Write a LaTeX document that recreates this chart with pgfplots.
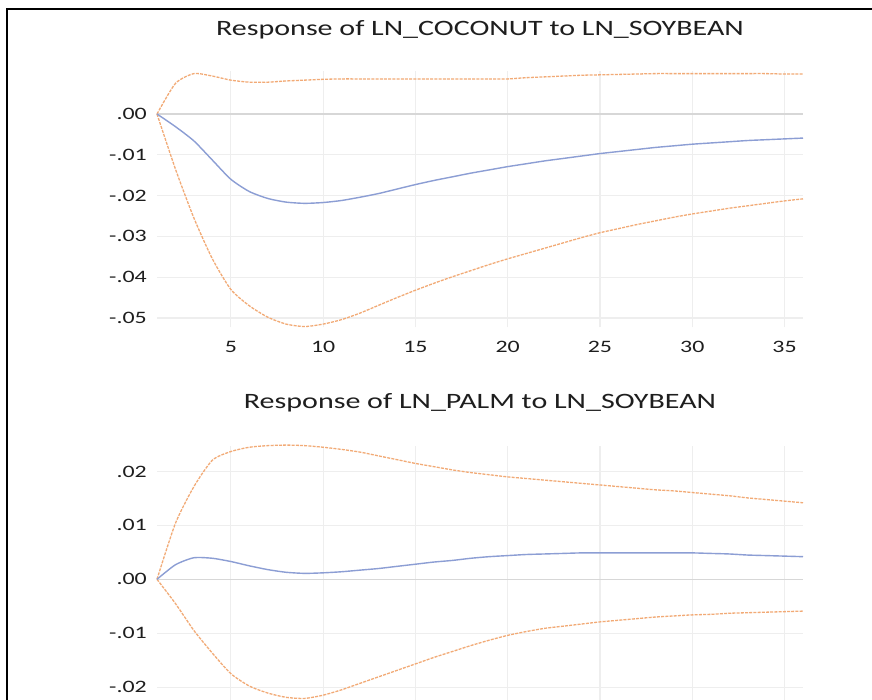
\documentclass[border=0pt]{standalone}
\usepackage{pgfplots}
\pgfplotsset{compat=1.18}
\usepackage{pgfplotstable}
\usepackage{fontspec}
\setmainfont{Carlito}[FakeStretch=1.37]
\definecolor{irfblue}{RGB}{140,158,212}
\definecolor{bandorange}{RGB}{242,170,118}
\definecolor{gridc}{RGB}{238,238,238}
\definecolor{zeroc}{RGB}{215,215,215}
\definecolor{txt}{RGB}{30,30,30}

\pgfplotstableread{
x mid lo hi
1 0 0 0
2 -0.0031 -0.0135 0.0075
3 -0.0066 -0.0255 0.0099
4 -0.0113 -0.0355 0.0093
5 -0.0160 -0.0430 0.0083
6 -0.0190 -0.0470 0.0078
7 -0.0207 -0.0498 0.0078
8 -0.0216 -0.0515 0.0081
9 -0.0219 -0.0521 0.0083
10 -0.0217 -0.0515 0.0085
11 -0.0212 -0.0504 0.0086
12 -0.0204 -0.0488 0.0086
13 -0.0195 -0.0469 0.0086
14 -0.0184 -0.0450 0.0086
15 -0.0173 -0.0432 0.0086
16 -0.0163 -0.0415 0.0086
17 -0.0154 -0.0399 0.0086
18 -0.0145 -0.0384 0.0086
19 -0.0137 -0.0369 0.0086
20 -0.0129 -0.0355 0.0086
21 -0.0122 -0.0342 0.0089
22 -0.0115 -0.0329 0.0091
23 -0.0109 -0.0316 0.0093
24 -0.0103 -0.0303 0.0095
25 -0.0097 -0.0291 0.0096
26 -0.0092 -0.0281 0.0097
27 -0.0087 -0.0271 0.0098
28 -0.0082 -0.0262 0.0099
29 -0.0078 -0.0253 0.0099
30 -0.0074 -0.0245 0.0099
31 -0.0071 -0.0238 0.0099
32 -0.0068 -0.0231 0.0099
33 -0.0065 -0.0225 0.0099
34 -0.0063 -0.0219 0.0099
35 -0.0061 -0.0213 0.0098
36 -0.0059 -0.0208 0.0098
}\coconut

\pgfplotstableread{
x mid lo hi
1 0 0 0
2 0.0027 -0.0045 0.0104
3 0.0040 -0.0095 0.0172
4 0.0039 -0.0137 0.0221
5 0.0033 -0.0175 0.0237
6 0.0025 -0.0198 0.0245
7 0.0018 -0.0211 0.0248
8 0.0013 -0.0219 0.0249
9 0.0011 -0.0221 0.0248
10 0.0012 -0.0215 0.0245
11 0.0014 -0.0205 0.0241
12 0.0017 -0.0193 0.0236
13 0.0020 -0.0181 0.0229
14 0.0024 -0.0169 0.0222
15 0.0028 -0.0157 0.0215
16 0.0032 -0.0145 0.0209
17 0.0035 -0.0134 0.0203
18 0.0039 -0.0123 0.0198
19 0.0042 -0.0113 0.0194
20 0.0044 -0.0104 0.0190
21 0.0046 -0.0097 0.0187
22 0.0047 -0.0091 0.0184
23 0.0048 -0.0087 0.0181
24 0.0049 -0.0083 0.0178
25 0.0049 -0.0079 0.0175
26 0.0049 -0.0076 0.0172
27 0.0049 -0.0073 0.0169
28 0.0049 -0.0070 0.0166
29 0.0049 -0.0068 0.0164
30 0.0049 -0.0066 0.0161
31 0.0048 -0.0065 0.0158
32 0.0047 -0.0063 0.0155
33 0.0045 -0.0062 0.0151
34 0.0044 -0.0061 0.0148
35 0.0043 -0.0060 0.0145
36 0.0042 -0.0059 0.0142
}\palm

\pgfplotsset{
  irf/.style={
    scale only axis,
    width=646bp,
    xmin=1, xmax=36,
    axis line style={draw=none},
    major tick length=0pt,
    scaled y ticks=false,
    scaled x ticks=false,
    xtick={5,10,15,20,25,30,35},
    xmajorgrids, ymajorgrids,
    grid style={gridc, line width=1.2bp},
    /pgf/number format/assume math mode=true,
    tick label style={font=\fontsize{17.5}{20}\selectfont, text=txt},
    yticklabel style={inner sep=0pt, anchor=east, xshift=-10bp},
    xticklabel style={inner sep=0pt, anchor=north, yshift=-14bp},
    title style={font=\fontsize{22}{26}\selectfont, text=txt, at={(0.5,1)}, anchor=center, inner sep=0pt},
    clip=false,
  },
  midline/.style={irfblue, line width=1.4bp, no marks, smooth, tension=0.4},
  bandline/.style={bandorange, line width=1.3bp, no marks, smooth, tension=0.4, dash pattern=on 3bp off 1.2bp},
}

\begin{document}
\begin{tikzpicture}
\useasboundingbox (0bp,0bp) rectangle (872bp,-700bp);
\clip (0bp,0bp) rectangle (872bp,-700bp);
\fill[white] (0bp,0bp) rectangle (872bp,-700bp);
\draw[black, line width=2bp] (7.3bp,-702bp) -- (7.3bp,-9.3bp) -- (872bp,-9.3bp);

\begin{axis}[irf,
  at={(157bp,-327bp)}, anchor=south west,
  height=256bp,
  ymin=-0.05221, ymax=0.01054,
  ytick={-0.05,-0.04,-0.03,-0.02,-0.01,0},
  yticklabels={-.05,-.04,-.03,-.02,-.01,.00},
  title={Response of LN\_COCONUT to LN\_SOYBEAN},
  title style={yshift=35bp},
]
\addplot[zeroc, line width=1.4bp, forget plot] coordinates {(1,0) (36,0)};
\addplot[bandline] table[x=x,y=hi] {\coconut};
\addplot[bandline] table[x=x,y=lo] {\coconut};
\addplot[midline] table[x=x,y=mid] {\coconut};
\end{axis}

\begin{axis}[irf,
  at={(157bp,-710bp)}, anchor=south west,
  height=264bp,
  ymin=-0.02425, ymax=0.02473,
  ytick={-0.02,-0.01,0,0.01,0.02},
  yticklabels={-.02,-.01,.00,.01,.02},
  xticklabels={},
  title={Response of LN\_PALM to LN\_SOYBEAN},
  title style={yshift=37bp},
]
\addplot[zeroc, line width=1.4bp, forget plot] coordinates {(1,0) (36,0)};
\addplot[bandline] table[x=x,y=hi] {\palm};
\addplot[bandline] table[x=x,y=lo] {\palm};
\addplot[midline] table[x=x,y=mid] {\palm};
\end{axis}
\end{tikzpicture}
\end{document}
